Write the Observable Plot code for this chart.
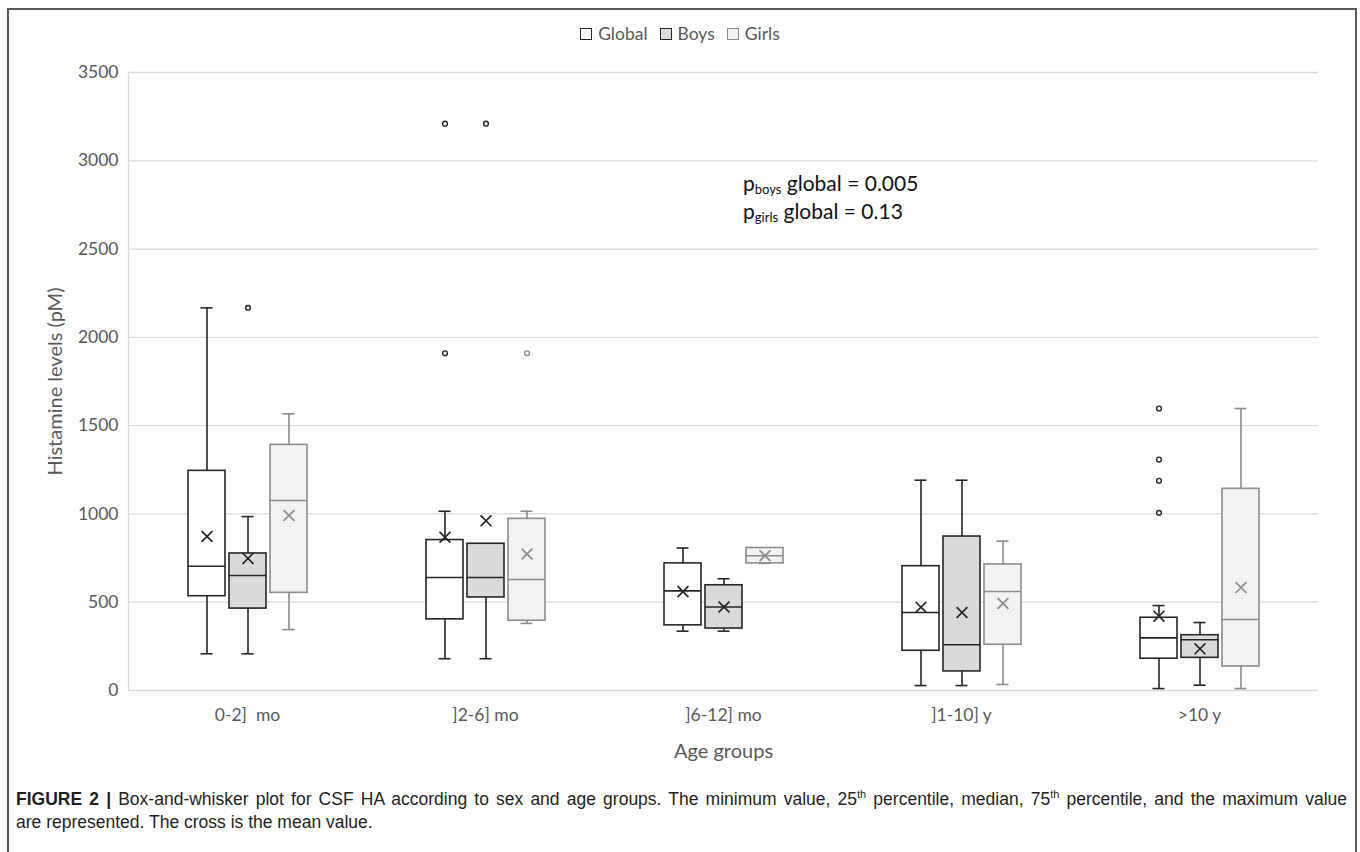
<!DOCTYPE html>
<html>
<head>
<meta charset="utf-8">
<script src="https://cdn.jsdelivr.net/npm/d3@7"></script>
<script src="https://cdn.jsdelivr.net/npm/@observablehq/plot@0.6"></script>
<style>
  html, body { margin: 0; padding: 0; background: #fff; }
  #wrap { position: relative; width: 1360px; height: 852px; overflow: hidden; background: #fff; }
  #frame { position: absolute; left: 7px; top: 8px; width: 1346px; height: 900px; border: 2px solid #5a5a5a; }
  #chart { position: absolute; left: 0; top: 0; }
  #chart svg text { white-space: pre; }
  #legend { position: absolute; top: 23px; left: 0; width: 1360px; display: flex; justify-content: center; gap: 12px;
            font-family: Lato, sans-serif; font-size: 17.5px; color: #595959; }
  #legend .item { display: flex; align-items: center; gap: 6px; }
  #legend .sw { width: 10px; height: 10px; border: 1.6px solid #262626; display: inline-block; }
  #note { position: absolute; left: 743px; top: 169px; font-family: Lato, sans-serif; font-size: 21px; color: #111; }
  #note div { height: 28px; line-height: 28px; }
  #note sub { font-size: 13px; vertical-align: -3px; line-height: 0; }
  #caption { position: absolute; left: 16px; top: 788px; width: 1331px; font-family: "Liberation Sans", Arial, sans-serif;
             font-size: 17.5px; color: #231f20; }
  #caption div { height: 23px; line-height: 23px; white-space: nowrap; }
  #caption .first { text-align: justify; text-align-last: justify; white-space: normal; overflow: hidden; }
  #caption b { font-weight: bold; }
  #caption sup { font-size: 11px; vertical-align: 7px; line-height: 0; }
</style>
</head>
<body>
<div id="wrap">
  <div id="frame"></div>
  <div id="chart"></div>
  <div id="legend"></div>
  <div id="note"><div>p<sub>boys</sub> global = 0.005</div><div>p<sub>girls</sub> global = 0.13</div></div>
  <div id="caption">
    <div class="first"><b>FIGURE 2 |</b> Box-and-whisker plot for CSF HA according to sex and age groups. The minimum value, 25<sup>th</sup> percentile, median, 75<sup>th</sup> percentile, and the maximum value</div>
    <div>are represented. The cross is the mean value.</div>
  </div>
</div>
<script>
// ---- data ----
const groups = ["0-2]  mo", "]2-6] mo", "]6-12] mo", "]1-10] y", ">10 y"];
const series = ["Global", "Boys", "Girls"];
const yTicks = [0, 500, 1000, 1500, 2000, 2500, 3000, 3500];

const globalMin    = [208, 180, 336, 28, 11];
const globalQ1     = [534, 403, 369, 225, 180];
const globalMedian = [704, 640, 564, 442, 298];
const globalQ3     = [1244, 852, 720, 704, 412];
const globalMax    = [2167, 1015, 807, 1191, 481];
const globalMean   = [872, 868, 560, 472, 421];
const globalOutliers = [[], [1910, 3210], [], [], [1006, 1188, 1308, 1597]];

const boysMin    = [208, 180, 336, 28, 30];
const boysQ1     = [464, 527, 351, 108, 185];
const boysMedian = [651, 640, 473, 259, 287];
const boysQ3     = [776, 831, 596, 872, 313];
const boysMax    = [985, 831, 633, 1191, 385];
const boysMean   = [748, 961, 473, 442, 236];
const boysOutliers = [[2167], [3210], [], [], []];

const girlsMin    = [345, 380, 720, 34, 11];
const girlsQ1     = [553, 395, 720, 259, 136];
const girlsMedian = [1076, 629, 763, 561, 402];
const girlsQ3     = [1391, 972, 807, 714, 1142];
const girlsMax    = [1567, 1015, 807, 846, 1597];
const girlsMean   = [991, 773, 763, 493, 583];
const girlsOutliers = [[], [1910], [], [], []];

// ---- styling ----
const strokeOf = {Global: "#262626", Boys: "#262626", Girls: "#8c8c8c"};
const fillOf = {Global: "#ffffff", Boys: "#dadada", Girls: "#f2f2f2"};

// ---- build tables ----
const statsBySeries = {
  Global: [globalMin, globalQ1, globalMedian, globalQ3, globalMax, globalMean, globalOutliers],
  Boys: [boysMin, boysQ1, boysMedian, boysQ3, boysMax, boysMean, boysOutliers],
  Girls: [girlsMin, girlsQ1, girlsMedian, girlsQ3, girlsMax, girlsMean, girlsOutliers]
};
const rows = [];
const outRows = [];
groups.forEach((g, i) => {
  series.forEach(s => {
    const [mn, q1, md, q3, mx, me, out] = statsBySeries[s];
    rows.push({group: g, series: s, min: mn[i], q1: q1[i], median: md[i], q3: q3[i], max: mx[i], mean: me[i]});
    out[i].forEach(v => outRows.push({group: g, series: s, value: v}));
  });
});

const sw = 1.6;
const common = {fx: "group", x: "series"};
const strokeFn = d => strokeOf[d.series];

const chart = Plot.plot({
  width: 1360,
  height: 770,
  marginTop: 72,
  marginBottom: 80,
  marginLeft: 127,
  marginRight: 42,
  style: {fontFamily: "Lato, sans-serif", background: "transparent", color: "#595959"},
  fx: {domain: groups, padding: 0, axis: null},
  x: {domain: series, paddingInner: 0.1, paddingOuter: 1.45, axis: null},
  y: {domain: [0, 3500], axis: null},
  color: {type: "identity"},
  marks: [
    Plot.gridY(yTicks, {stroke: "#d9d9d9", strokeOpacity: 1, strokeWidth: 1.3}),
    Plot.frame({anchor: "left", facetAnchor: "left", stroke: "#d9d9d9", strokeWidth: 1.3}),
    Plot.axisY({ticks: yTicks, tickSize: 0, tickPadding: 10, fontSize: 17.5, tickFormat: d => String(d), label: null, facetAnchor: "left"}),
    Plot.axisY({ticks: yTicks, tickSize: 0, tickFormat: () => "", fontSize: 20, fill: "#595959", label: "Histamine levels (pM)", labelAnchor: "center", labelArrow: "none", labelOffset: 81, facetAnchor: "left"}),
    Plot.axisFx({anchor: "bottom", tickSize: 0, tickPadding: 18, fontSize: 17.5, label: null}),
    Plot.axisFx({anchor: "bottom", tickSize: 0, tickFormat: () => "", fontSize: 20, fill: "#595959", label: "Age groups", labelAnchor: "center", labelArrow: "none", labelOffset: 67}),
    // whiskers
    Plot.ruleX(rows, {...common, y1: "q3", y2: "max", stroke: strokeFn, strokeWidth: sw}),
    Plot.ruleX(rows, {...common, y1: "min", y2: "q1", stroke: strokeFn, strokeWidth: sw}),
    Plot.tickY(rows, {...common, y: "max", stroke: strokeFn, strokeWidth: sw, insetLeft: 12.5, insetRight: 12.5}),
    Plot.tickY(rows, {...common, y: "min", stroke: strokeFn, strokeWidth: sw, insetLeft: 12.5, insetRight: 12.5}),
    // boxes
    Plot.barY(rows, {...common, y1: "q1", y2: "q3", fill: d => fillOf[d.series], stroke: strokeFn, strokeWidth: sw}),
    Plot.tickY(rows, {...common, y: "median", stroke: strokeFn, strokeWidth: sw}),
    // means
    Plot.dot(rows, {...common, y: "mean", symbol: "times", r: 5, stroke: strokeFn, strokeWidth: 1.7}),
    // outliers
    Plot.dot(outRows, {...common, y: "value", r: 2.4, stroke: strokeFn, fill: "#ffffff", strokeWidth: 1.4})
  ]
});
document.getElementById("chart").appendChild(chart);

// legend
const legend = document.getElementById("legend");
series.forEach(s => {
  const item = document.createElement("span");
  item.className = "item";
  const box = document.createElement("span");
  box.className = "sw";
  box.style.background = fillOf[s];
  box.style.borderColor = strokeOf[s];
  const label = document.createElement("span");
  label.textContent = s;
  item.appendChild(box);
  item.appendChild(label);
  legend.appendChild(item);
});
</script>
</body>
</html>
